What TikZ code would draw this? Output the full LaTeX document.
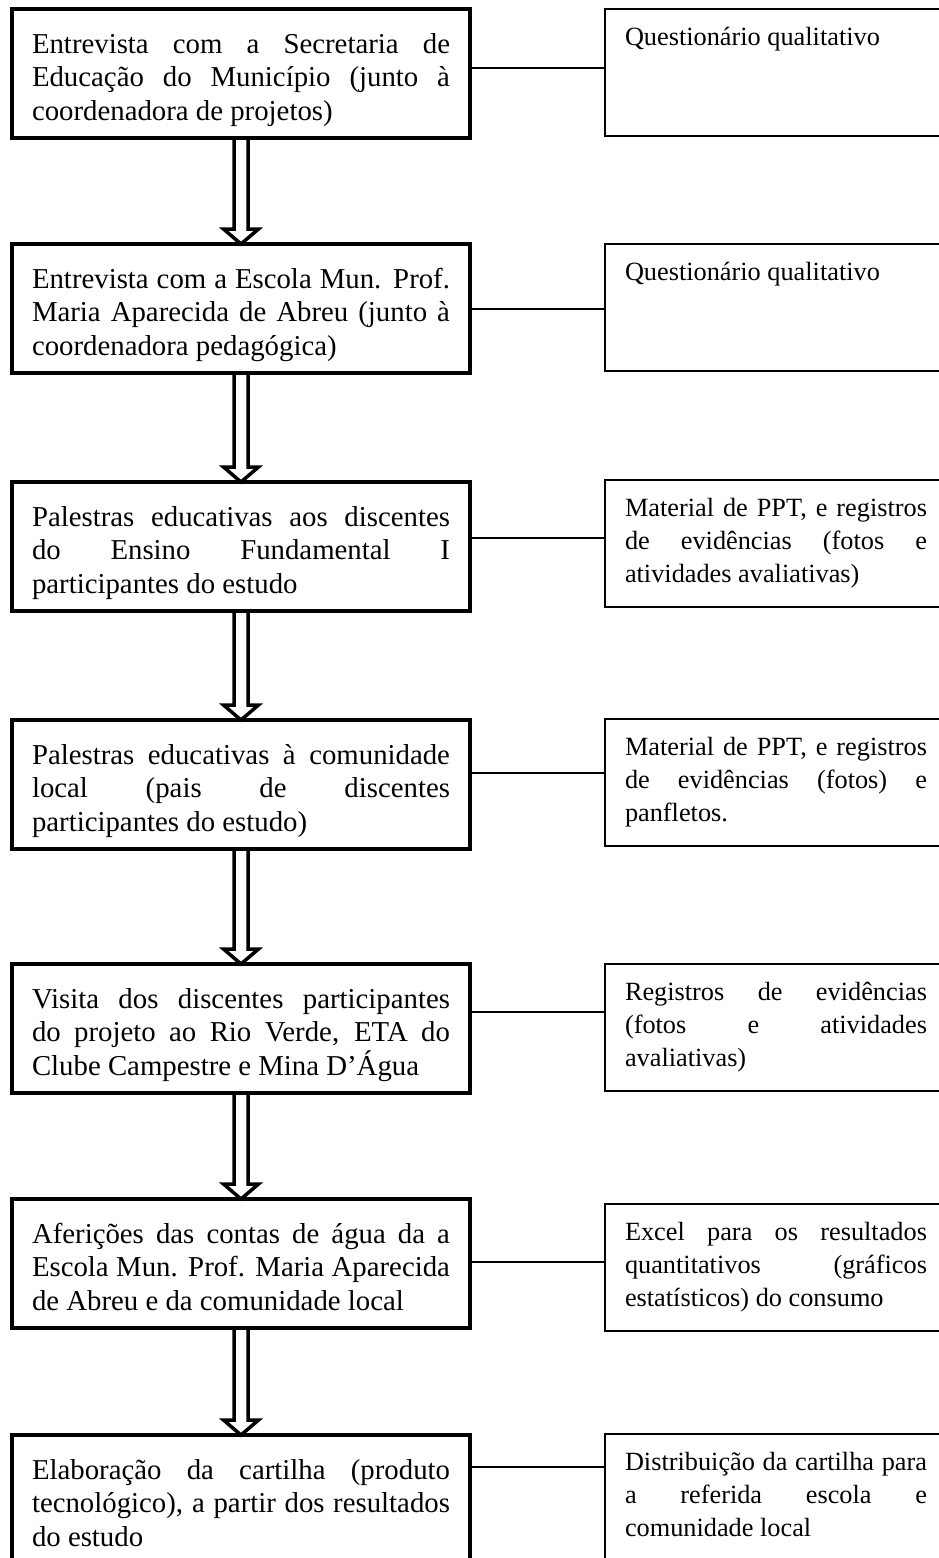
\documentclass[tikz,border=0pt]{standalone}
\usepackage{fontspec}
\setmainfont{Liberation Serif}
\usetikzlibrary{calc}
\tolerance=10000 \hbadness=10000 \vbadness=10000 \hfuzz=8pt \vfuzz=20pt
\newcommand{\mkLtext}[1]{\parbox[c][129pt][t]{418pt}{\fontsize{28.8pt}{33.6pt}\selectfont\rule{0pt}{44pt}#1}}
\newcommand{\mkRtext}[1]{\parbox[c][127pt][t]{302pt}{\fontsize{26.3pt}{33pt}\selectfont\rule{0pt}{36pt}#1}}
\tikzset{
  lbox/.style={draw, line width=3.8pt, anchor=north west, inner xsep=20pt, inner ysep=0pt, outer sep=0pt},
  rbox/.style={draw, line width=1.2pt, anchor=north west, inner xsep=20pt, inner ysep=0pt, outer sep=0pt},
  conn/.style={line width=1.6pt},
  blockarrow/.style={line width=3.5pt, line join=miter}
}
\begin{document}
\begin{tikzpicture}[x=1pt,y=1pt]
\fill[white] (0,0) rectangle (939,-1558);
\useasboundingbox (0,0) rectangle (939,-1558);

% left boxes
\node[lbox] (L1) at (12,-9) {\mkLtext{Entrevista com a Secretaria de\linebreak Educação do Município (junto à\linebreak coordenadora de projetos)}};
\node[lbox] (L2) at (12,-244) {\mkLtext{Entrevista com a Escola Mun. Prof.\linebreak Maria Aparecida de Abreu (junto à\linebreak coordenadora pedagógica)}};
\node[lbox] (L3) at (12,-482) {\mkLtext{Palestras educativas aos discentes\linebreak do Ensino Fundamental I\linebreak participantes do estudo}};
\node[lbox] (L4) at (12,-720) {\mkLtext{Palestras educativas à comunidade\linebreak local (pais de discentes\linebreak participantes do estudo)}};
\node[lbox] (L5) at (12,-964) {\mkLtext{Visita dos discentes participantes\linebreak do projeto ao Rio Verde, ETA do\linebreak Clube Campestre e Mina D’Água}};
\node[lbox] (L6) at (12,-1199) {\mkLtext{Aferições das contas de água da a\linebreak Escola Mun. Prof. Maria Aparecida\linebreak de Abreu e da comunidade local}};
\node[lbox] (L7) at (12,-1435) {\mkLtext{Elaboração da cartilha (produto\linebreak tecnológico), a partir dos resultados\linebreak do estudo}};

% right boxes
\node[rbox] (R1) at (605,-9) {\mkRtext{Questionário qualitativo}};
\node[rbox] (R2) at (605,-244) {\mkRtext{Questionário qualitativo}};
\node[rbox] (R3) at (605,-480) {\mkRtext{Material de PPT, e registros\linebreak de evidências (fotos e\linebreak atividades avaliativas)}};
\node[rbox] (R4) at (605,-719) {\mkRtext{Material de PPT, e registros\linebreak de evidências (fotos) e\linebreak panfletos.}};
\node[rbox] (R5) at (605,-964) {\mkRtext{Registros de evidências\linebreak (fotos e atividades\linebreak avaliativas)}};
\node[rbox] (R6) at (605,-1204) {\mkRtext{Excel para os resultados\linebreak quantitativos (gráficos\linebreak estatísticos) do consumo}};
\node[rbox] (R7) at (605,-1434) {\mkRtext{Distribuição da cartilha para\linebreak a referida escola e\linebreak comunidade local}};

% connectors
\draw[conn] ([yshift=-59pt]L1.north east) coordinate (c1) -- (c1 -| R1.west);
\draw[conn] ([yshift=-65pt]L2.north east) coordinate (c2) -- (c2 -| R2.west);
\draw[conn] ([yshift=-56pt]L3.north east) coordinate (c3) -- (c3 -| R3.west);
\draw[conn] ([yshift=-53pt]L4.north east) coordinate (c4) -- (c4 -| R4.west);
\draw[conn] ([yshift=-48pt]L5.north east) coordinate (c5) -- (c5 -| R5.west);
\draw[conn] ([yshift=-63pt]L6.north east) coordinate (c6) -- (c6 -| R6.west);
\draw[conn] ([yshift=-32pt]L7.north east) coordinate (c7) -- (c7 -| R7.west);

% block arrows
\foreach \a/\b in {L1/L2,L2/L3,L3/L4,L4/L5,L5/L6,L6/L7}{
  \draw[blockarrow] let \p1=(\a.south), \p2=(\b.north) in
    (\x1-7pt,\y1) -- (\x1-7pt,\y2+15pt) -- (\x1-17.5pt,\y2+15pt) -- (\x1,\y2)
    -- (\x1+17.5pt,\y2+15pt) -- (\x1+7pt,\y2+15pt) -- (\x1+7pt,\y1);
}
\end{tikzpicture}
\end{document}
